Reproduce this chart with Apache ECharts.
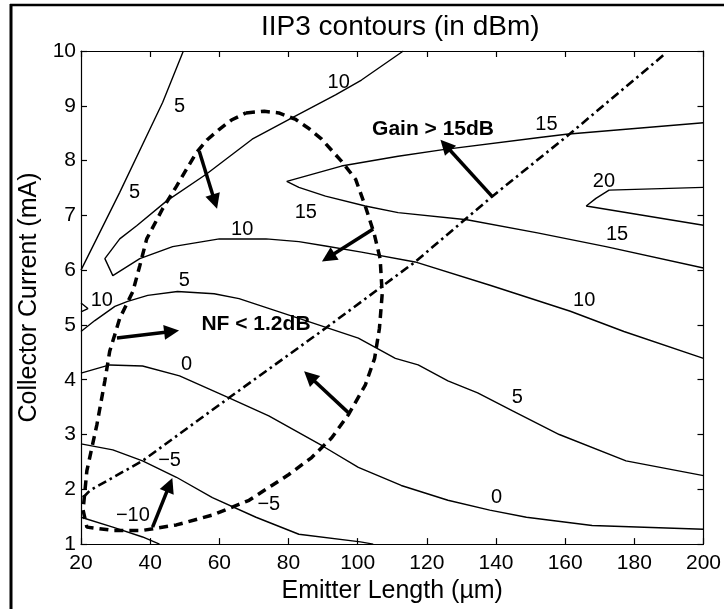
<!DOCTYPE html>
<html>
<head>
<meta charset="utf-8">
<script src="https://cdn.jsdelivr.net/npm/echarts@6/dist/echarts.min.js"></script>
<style>
html,body{margin:0;padding:0;background:#fff;}
#c{width:724px;height:609px;}
</style>
</head>
<body>
<div id="c"></div>
<script>
// ---- axis ticks ----
const xTicks = [20, 40, 60, 80, 100, 120, 140, 160, 180, 200];
const yTicks = [1, 2, 3, 4, 5, 6, 7, 8, 9, 10];

// ---- IIP3 contour lines [emitter length (um), collector current (mA)] ----
const contour5Steep = [[20, 6.0], [31.2, 7.42], [43.6, 9.06], [49.6, 10]];
const contour10 = [[113.2, 10], [101.1, 9.47], [93.6, 9.20], [81.0, 8.78], [69.5, 8.39], [56.2, 7.75], [44.7, 7.26], [36.1, 6.81], [31.2, 6.57], [26.9, 6.21], [29.2, 5.90], [37.0, 6.21], [46.5, 6.43], [60.0, 6.57], [73.5, 6.57], [83.0, 6.52], [90.7, 6.44], [101.1, 6.33], [116.6, 6.15], [138.5, 5.72], [161.5, 5.25], [177.0, 4.88], [200, 4.39]];
const contour15 = [[200, 8.69], [160.3, 8.48], [152.6, 8.42], [124.7, 8.20], [111.7, 8.08], [95.3, 7.90], [79.5, 7.62], [83.0, 7.51], [90.7, 7.35], [102.2, 7.17], [111.7, 7.05], [131.6, 6.92], [152.0, 6.68], [171.8, 6.43], [200, 6.04]];
const contour20 = [[200, 7.51], [172.7, 7.46], [168.9, 7.31], [166.1, 7.17], [200, 6.82]];
const contour10Edge = [[20, 5.40], [22, 5.30], [20, 5.24]];
const contour5 = [[20, 4.88], [24.0, 5.08], [29.8, 5.34], [33.5, 5.43], [39.3, 5.54], [47.9, 5.61], [58.5, 5.57], [65.7, 5.48], [83.0, 5.12], [100.2, 4.76], [110.9, 4.39], [117.5, 4.27], [126.1, 3.98], [134.7, 3.76], [144.8, 3.43], [158.3, 3.00], [177.6, 2.52], [200, 2.25]];
const contour0 = [[20, 4.12], [28.3, 4.27], [37.8, 4.25], [48.5, 4.07], [62.8, 3.67], [74.3, 3.34], [89.6, 2.80], [100.2, 2.40], [112.6, 2.07], [126.1, 1.80], [138.2, 1.62], [148.8, 1.49], [167.8, 1.34], [200, 1.27]];
const contourM5 = [[20, 2.83], [29.2, 2.72], [37.8, 2.52], [47.6, 2.22], [58.0, 1.85], [70.6, 1.49], [83.0, 1.18], [100.8, 1.04], [104.5, 1.0]];
const contourM10 = [[20, 1.49], [29.2, 1.31], [37.8, 1.13], [42.7, 1.0]];

// ---- NF < 1.2dB region (dashed) ----
const nfRegion = [[67.7, 8.87], [73.0, 8.90], [77.2, 8.87], [82.1, 8.75], [86.0, 8.58], [89.6, 8.39], [95.3, 7.99], [99.4, 7.66], [102.2, 7.17], [104.8, 6.66], [106.5, 6.21], [107.1, 5.57], [106.3, 4.94], [104.9, 4.39], [102.2, 3.90], [97.3, 3.36], [92.5, 2.94], [86.7, 2.58], [80.1, 2.27], [75.2, 2.07], [68.6, 1.80], [58.0, 1.53], [47.6, 1.35], [37.8, 1.25], [29.2, 1.25], [21.7, 1.31], [20.6, 1.62], [21.7, 2.34], [24.6, 3.18], [26.9, 3.98], [28.3, 4.52], [31.2, 5.12], [35.0, 5.61], [37.0, 6.08], [39.0, 6.57], [43.6, 7.12], [47.6, 7.53], [53.4, 8.15], [56.5, 8.38], [60.0, 8.57], [63.5, 8.74], [67.7, 8.87]];

// ---- Gain > 15dB boundary (dash-dot) ----
const gainBoundary = [[20.6, 1.85], [22.6, 1.98], [37.8, 2.52], [62.8, 3.67], [90.7, 4.94], [116.6, 6.15], [139.0, 7.35], [161.2, 8.48], [189.1, 9.96]];

// ---- arrows: [x0, y0, x1, y1] ----
const arrows = [
  [54.2, 8.17, 58.7, 7.25],
  [104.5, 6.75, 91.5, 6.23],
  [138.8, 7.35, 125.4, 8.28],
  [30.4, 4.76, 46.2, 4.88],
  [40.7, 1.31, 45.6, 2.08],
  [97.3, 3.40, 86.1, 4.06]
];

// ---- contour value labels ----
const labelText = ['5', '5', '10', '10', '15', '15', '20', '15', '10', '5', '10', '0', '5', '0', '\u22125', '\u22125', '\u221210'];
const labelX = [48.5, 35.5, 94.5, 66.6, 85.0, 154.6, 171.2, 175.0, 165.5, 49.9, 26.0, 50.5, 146.2, 140.2, 45.6, 74.3, 35.0];
const labelY = [8.98, 7.42, 9.42, 6.75, 7.06, 8.66, 7.62, 6.66, 5.45, 5.81, 5.45, 4.27, 3.67, 1.85, 2.52, 1.73, 1.53];

// ---- annotations ----
const noteText = ['Gain > 15dB', 'NF < 1.2dB'];
const noteX = [121.8, 70.6];
const noteY = [8.58, 5.01];

const FONT = '"Liberation Sans", Arial, Helvetica, sans-serif';

function contourSeries(data) {
  return {
    type: 'line', data: data, showSymbol: false, symbol: 'none', silent: true,
    lineStyle: { color: '#000', width: 1.4 }, animation: false, z: 3
  };
}

const series = [
  contourSeries(contour5Steep),
  contourSeries(contour10),
  contourSeries(contour15),
  contourSeries(contour20),
  contourSeries(contour10Edge),
  contourSeries(contour5),
  contourSeries(contour0),
  contourSeries(contourM5),
  contourSeries(contourM10),
  {
    type: 'line', data: nfRegion, showSymbol: false, symbol: 'none', silent: true, animation: false, z: 4,
    lineStyle: { color: '#000', width: 3.5, type: [9, 6] }
  },
  {
    type: 'line', data: gainBoundary, showSymbol: false, symbol: 'none', silent: true, animation: false, z: 4,
    lineStyle: { color: '#000', width: 2.6, type: [9, 4, 2.5, 4] }
  },
  {
    type: 'lines', coordinateSystem: 'cartesian2d', xAxisIndex: 0, yAxisIndex: 0, silent: true, animation: false, z: 5,
    symbol: ['none', 'triangle'], symbolSize: 15,
    lineStyle: { color: '#000', width: 3.5, opacity: 1, curveness: 0 },
    data: arrows.map(a => ({ coords: [[a[0], a[1]], [a[2], a[3]]] }))
  },
  {
    type: 'scatter', silent: true, animation: false, symbolSize: 0, itemStyle: { color: 'rgba(0,0,0,0)' }, z: 6,
    label: { show: true, position: 'inside', formatter: '{b}', color: '#000', opacity: 1, fontSize: 20, fontFamily: FONT },
    data: labelText.map((t, i) => ({ name: t, value: [labelX[i], labelY[i]] }))
  },
  {
    type: 'scatter', silent: true, animation: false, symbolSize: 0, itemStyle: { color: 'rgba(0,0,0,0)' }, z: 6,
    label: { show: true, position: 'inside', formatter: '{b}', color: '#000', opacity: 1, fontSize: 21, fontWeight: 'bold', fontFamily: FONT },
    data: noteText.map((t, i) => ({ name: t, value: [noteX[i], noteY[i]] }))
  }
];

const axisLineStyle = { color: '#000', width: 1.2 };
const tickStyle = { inside: true, length: 6, lineStyle: { color: '#000', width: 1.2 } };

const chart = echarts.init(document.getElementById('c'), null, { renderer: 'canvas' });
chart.setOption({
  backgroundColor: '#fff',
  animation: false,
  title: {
    text: 'IIP3 contours (in dBm)', left: 256, top: 8,
    textStyle: { fontFamily: FONT, fontSize: 28, fontWeight: 'normal', color: '#000' }
  },
  grid: { left: 81, right: 17, top: 51, bottom: 62, containLabel: false },
  xAxis: [
    {
      type: 'value', min: xTicks[0], max: xTicks[xTicks.length - 1], interval: xTicks[1] - xTicks[0], position: 'bottom',
      axisLine: { show: true, onZero: false, lineStyle: axisLineStyle }, axisTick: tickStyle,
      axisLabel: { color: '#000', fontSize: 21, fontFamily: FONT, margin: 9, showMinLabel: true, showMaxLabel: true },
      splitLine: { show: false },
      name: 'Emitter Length (\u00b5m)', nameLocation: 'middle', nameGap: 32,
      nameTextStyle: { color: '#000', fontSize: 25, fontFamily: FONT }
    },
    {
      type: 'value', min: xTicks[0], max: xTicks[xTicks.length - 1], interval: xTicks[1] - xTicks[0], position: 'top',
      axisLine: { show: true, onZero: false, lineStyle: axisLineStyle }, axisTick: tickStyle,
      axisLabel: { show: false }, splitLine: { show: false }
    }
  ],
  yAxis: [
    {
      type: 'value', min: yTicks[0], max: yTicks[yTicks.length - 1], interval: yTicks[1] - yTicks[0], position: 'left',
      axisLine: { show: true, onZero: false, lineStyle: axisLineStyle }, axisTick: tickStyle,
      axisLabel: { color: '#000', fontSize: 21, fontFamily: FONT, margin: 5, showMinLabel: true, showMaxLabel: true },
      splitLine: { show: false },
      name: 'Collector Current (mA)', nameLocation: 'middle', nameGap: 34,
      nameTextStyle: { color: '#000', fontSize: 25, fontFamily: FONT }
    },
    {
      type: 'value', min: yTicks[0], max: yTicks[yTicks.length - 1], interval: yTicks[1] - yTicks[0], position: 'right',
      axisLine: { show: true, onZero: false, lineStyle: axisLineStyle }, axisTick: tickStyle,
      axisLabel: { show: false }, splitLine: { show: false }
    }
  ],
  graphic: [
    { type: 'line', shape: { x1: 10, y1: 5, x2: 724, y2: 5 }, style: { stroke: '#000', lineWidth: 2.5 }, silent: true },
    { type: 'line', shape: { x1: 11, y1: 4, x2: 11, y2: 609 }, style: { stroke: '#000', lineWidth: 3 }, silent: true }
  ],
  series: series
});
</script>
</body>
</html>
